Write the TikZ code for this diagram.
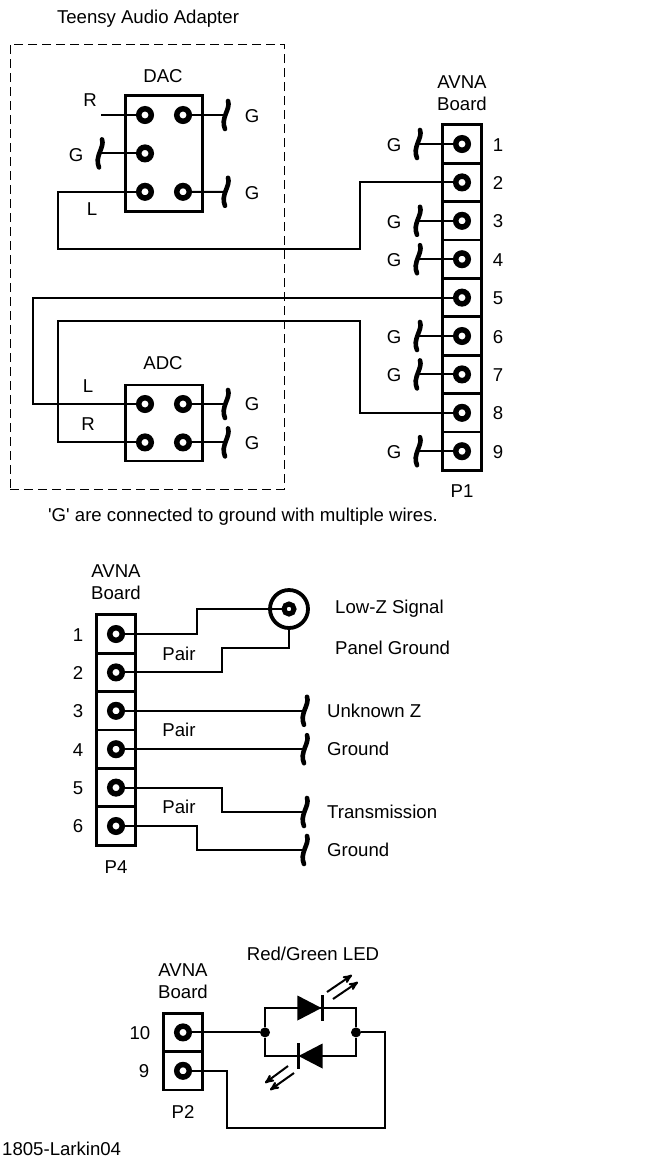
\documentclass[tikz,border=0pt]{standalone}
\usepackage{fontspec}
\setmainfont{Liberation Sans}
\usetikzlibrary{arrows, shapes.geometric, positioning}

\begin{document}
\begin{tikzpicture}[x=1pt, y=-1pt, node distance = 38.4pt]
\tikzstyle{lbl}=[inner sep=0pt, align=center, font=\fontsize{18.6}{22.5}\selectfont]
\tikzstyle{wire}=[line width=2pt, line join=miter]
\tikzstyle{cellbox}=[rectangle, draw=black, line width=2.8pt, minimum width=38.5pt, minimum height=38.5pt, inner sep=0pt]
\tikzstyle{pinc}=[circle, draw=black, line width=5.5pt, minimum size=12.5pt, inner sep=0pt, outer sep=0pt]
\tikzstyle{hdr}=[pinc, label={[cellbox]center:}]
\tikzstyle{chip}=[rectangle, draw=black, line width=2.8pt, minimum width=77pt, inner sep=0pt]
\tikzstyle{dot}=[circle, fill=black, minimum size=10pt, inner sep=0pt]
\tikzstyle{led}=[isosceles triangle, isosceles triangle stretches, fill=black, minimum height=24pt, minimum width=25pt, inner sep=0pt]
\tikzstyle{ray}=[line width=2pt, -stealth']
\tikzstyle{gnd}=[rectangle, inner sep=0pt, minimum width=22pt, minimum height=42pt,
  path picture={\draw [line width=4.6pt, line cap=round, shift={(path picture bounding box.center)}]
    (1,-14) .. controls (4,-6) and (-7,3) .. (-2,14);}]
\useasboundingbox (0,0) rectangle (647,1157);
%
\begin{scope}

\node [lbl] (adaptertxt) at (148,19) {Teensy Audio Adapter};
\node [rectangle, draw=black, line width=0.8pt, dash pattern=on 9pt off 5pt, minimum width=274pt, minimum height=445pt] (adapter) at (147,266.5) {};

% DAC
\node [chip, minimum height=116pt] (dac) at (164,153.5) {};
\node [lbl] (dactxt) at (163,76) {DAC};
\node [pinc] (d1) at (145,115) {};
\node [pinc] (d2) at (183,115) {};
\node [pinc] (d3) [below of=d1] {};
\node [pinc] (d4) [below of=d3] {};
\node [pinc] (d5) [below of=d2, yshift=-38.4pt] {};
\coordinate (rend) at (101,115);
\draw [wire] (rend) -- (d1);
\node [lbl] (rtxt) at (90,100) {R};
\node [lbl] (ltxt) at (92,209) {L};
\node [gnd] (gd2) at (227,115) {};
\node [gnd] (gd3) at (101,153.4) {};
\node [gnd] (gd5) at (227,191.8) {};
\draw [wire] (gd2.center) -- (d2);
\draw [wire] (gd3.center) -- (d3);
\draw [wire] (gd5.center) -- (d5);
\node [lbl] (gtd2) at (252,116) {G};
\node [lbl] (gtd3) at (76,155) {G};
\node [lbl] (gtd5) at (252,193) {G};

% ADC
\node [chip, minimum height=76pt] (adc) at (164,423) {};
\node [lbl] (adctxt) at (163,363) {ADC};
\node [pinc] (a1) at (145,404) {};
\node [pinc] (a2) at (183,404) {};
\node [pinc] (a3) [below of=a1] {};
\node [pinc] (a4) [below of=a2] {};
\node [lbl] (ltxta) at (88,386) {L};
\node [lbl] (rtxta) at (88,424) {R};
\node [gnd] (ga2) at (227,404) {};
\node [gnd] (ga4) at (227,442.4) {};
\draw [wire] (ga2.center) -- (a2);
\draw [wire] (ga4.center) -- (a4);
\node [lbl] (gta2) at (252,404) {G};
\node [lbl] (gta4) at (252,443) {G};

% P1
\node [lbl] (boardp1) at (462,93) {AVNA\\Board};
\node [hdr] (p1) at (462,144) {};
\node [hdr] (p2) [below of=p1] {};
\node [hdr] (p3) [below of=p2] {};
\node [hdr] (p4) [below of=p3] {};
\node [hdr] (p5) [below of=p4] {};
\node [hdr] (p6) [below of=p5] {};
\node [hdr] (p7) [below of=p6] {};
\node [hdr] (p8) [below of=p7] {};
\node [hdr] (p9) [below of=p8] {};
\node [lbl] (ptxt1) at (462,491) {P1};
\node [lbl] (n1) at (498,145) {1};
\node [lbl] (n2) at (498,183) {2};
\node [lbl] (n3) at (498,221) {3};
\node [lbl] (n4) at (498,260) {4};
\node [lbl] (n5) at (498,298) {5};
\node [lbl] (n6) at (498,337) {6};
\node [lbl] (n7) at (498,375) {7};
\node [lbl] (n8) at (498,413) {8};
\node [lbl] (n9) at (498,452) {9};
\node [gnd] (g1) [left=43pt of p1.center, anchor=center] {};
\node [gnd] (g3) [left=43pt of p3.center, anchor=center] {};
\node [gnd] (g4) [left=43pt of p4.center, anchor=center] {};
\node [gnd] (g6) [left=43pt of p6.center, anchor=center] {};
\node [gnd] (g7) [left=43pt of p7.center, anchor=center] {};
\node [gnd] (g9) [left=43pt of p9.center, anchor=center] {};
\draw [wire] (g1.center) -- (p1);
\draw [wire] (g3.center) -- (p3);
\draw [wire] (g4.center) -- (p4);
\draw [wire] (g6.center) -- (p6);
\draw [wire] (g7.center) -- (p7);
\draw [wire] (g9.center) -- (p9);
\node [lbl] (gt1) at (394,145) {G};
\node [lbl] (gt3) at (394,222) {G};
\node [lbl] (gt4) at (394,260) {G};
\node [lbl] (gt6) at (394,337) {G};
\node [lbl] (gt7) at (394,375) {G};
\node [lbl] (gt9) at (394,452) {G};

\draw [wire] (d4) -| (58,249) -- (360,249) |- (p2);
\draw [wire] (a1) -| (33,350) |- (p5);
\draw [wire] (a3) -| (58,321) -- (360,321) |- (p8);
\node [lbl] (gnote) at (243,517) {\textquotesingle G\textquotesingle{} are connected to ground with multiple wires.};

\end{scope}
%
\begin{scope}

\node [lbl] (boardp4) at (116,582) {AVNA\\Board};
\node [hdr] (q1) at (116,634) {};
\node [hdr] (q2) [below of=q1] {};
\node [hdr] (q3) [below of=q2] {};
\node [hdr] (q4) [below of=q3] {};
\node [hdr] (q5) [below of=q4] {};
\node [hdr] (q6) [below of=q5] {};
\node [lbl] (ptxt4) at (116,867) {P4};
\node [lbl] (m1) at (78,635) {1};
\node [lbl] (m2) at (78,673) {2};
\node [lbl] (m3) at (78,711) {3};
\node [lbl] (m4) at (78,750) {4};
\node [lbl] (m5) at (78,788) {5};
\node [lbl] (m6) at (78,826) {6};

\node [circle, draw=black, line width=3.8pt, minimum size=38pt, inner sep=0pt] (bnc) at (289,609) {};
\node [pinc, line width=5pt, minimum size=10pt] (bncpin) at (289,609) {};
\draw [wire] (q1) -| (197,609) -- (bncpin);
\draw [wire] (q2) -| (222,648) -| (bnc.south);
\node [lbl, anchor=west] (lowz) at (335,609) {Low-Z Signal};
\node [lbl, anchor=west] (panel) at (335,648) {Panel Ground};

\node [gnd] (u3) [right=190pt of q3.center, anchor=center] {};
\node [gnd] (u4) [right=190pt of q4.center, anchor=center] {};
\node [gnd] (u5) at (306,812) {};
\node [gnd] (u6) at (306,850) {};
\draw [wire] (q3) -- (u3.center);
\draw [wire] (q4) -- (u4.center);
\draw [wire] (q5) -| (222,812) -- (u5.center);
\draw [wire] (q6) -| (197,850) -- (u6.center);
\node [lbl, anchor=west] (unk) at (327,711) {Unknown Z};
\node [lbl, anchor=west] (gr4) at (327,749) {Ground};
\node [lbl, anchor=west] (trans) at (327,812) {Transmission};
\node [lbl, anchor=west] (gr6) at (327,850) {Ground};
\node [lbl] (pair1) at (179,654) {Pair};
\node [lbl] (pair2) at (179,730) {Pair};
\node [lbl] (pair3) at (179,807) {Pair};

\end{scope}
%
\begin{scope}

\node [lbl] (boardp2) at (183,981) {AVNA\\Board};
\node [lbl] (ledtxt) at (313,954) {Red/Green LED};
\node [hdr] (r1) at (183,1032.4) {};
\node [hdr] (r2) [below of=r1] {};
\node [lbl] (ptxt2) at (183,1112) {P2};
\node [lbl] (k1) at (140,1033) {10};
\node [lbl] (k2) at (144,1071) {9};

\node [dot] (j1) at (265,1032.4) {};
\node [dot] (j2) at (356,1032.4) {};
\node [led, anchor=apex] (led1) at (322,1008) {};
\node [led, anchor=apex, shape border rotate=180] (led2) at (298,1056) {};
\draw [wire] (j1) |- (led1.apex) -| (j2);
\draw [wire] (j1) |- (led2.apex) -| (j2);
\draw [line width=3pt] (led1.apex) +(0,-13) -- +(0,13);
\draw [line width=3pt] (led2.apex) +(0,-13) -- +(0,13);
\draw [ray] (led1.apex) ++(5,-16) -- ++(25,-17);
\draw [ray] (led1.apex) ++(11,-9) -- ++(25,-17);
\draw [ray] (led2.apex) ++(-10,10) -- ++(-23,17);
\draw [ray] (led2.apex) ++(-4,17) -- ++(-24,17);
\draw [wire] (r1) -- (j1);
\draw [wire] (j2) -| (385,1128) -- (227,1128) |- (r2);
\node [lbl, anchor=west] (figid) at (2,1149) {1805-Larkin04};

\end{scope}
%
\end{tikzpicture}
\end{document}
